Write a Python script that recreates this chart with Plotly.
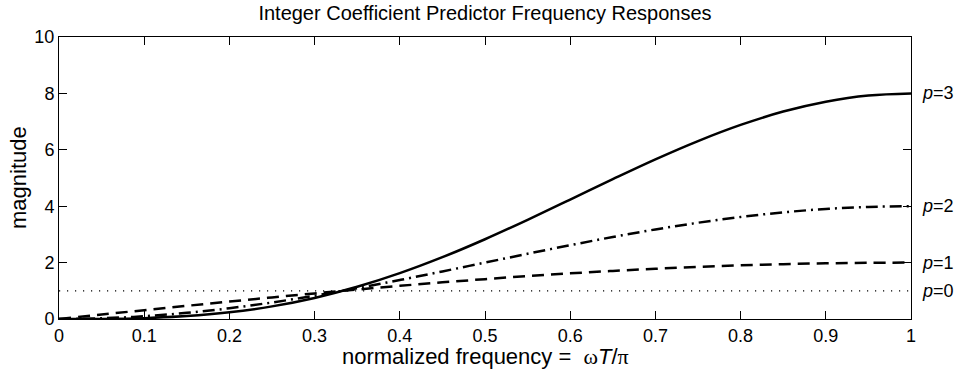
import plotly.graph_objects as go

# normalized frequency samples
freq = [0, 0.05, 0.1, 0.15, 0.2, 0.25, 0.3, 0.35, 0.4, 0.45, 0.5,
        0.55, 0.6, 0.65, 0.7, 0.75, 0.8, 0.85, 0.9, 0.95, 1.0]

# magnitude values
mag_p0 = [1.0] * 21
mag_p1 = [0, 0.157, 0.313, 0.467, 0.618, 0.765, 0.908, 1.045, 1.176, 1.299, 1.414,
          1.521, 1.618, 1.705, 1.782, 1.848, 1.902, 1.945, 1.975, 1.994, 2.0]
mag_p2 = [0, 0.025, 0.098, 0.218, 0.382, 0.586, 0.824, 1.092, 1.382, 1.687, 2.0,
          2.313, 2.618, 2.908, 3.176, 3.414, 3.618, 3.782, 3.902, 3.975, 4.0]
mag_p3 = [0, 0.004, 0.031, 0.102, 0.236, 0.448, 0.748, 1.141, 1.625, 2.191, 2.828,
          3.518, 4.236, 4.958, 5.660, 6.309, 6.882, 7.356, 7.706, 7.926, 8.0]

curve_labels = ["p=0", "p=1", "p=2", "p=3"]
label_levels = [1, 2, 4, 8]

x_ticks = [0, 0.1, 0.2, 0.3, 0.4, 0.5, 0.6, 0.7, 0.8, 0.9, 1]
x_ticktext = ["0", "0.1", "0.2", "0.3", "0.4", "0.5", "0.6", "0.7", "0.8", "0.9", "1"]
y_ticks = [0, 2, 4, 6, 8, 10]

FONT = "Liberation Sans, Arial, sans-serif"
SERIF = "Liberation Serif, Times New Roman, serif"

W, H = 956, 377
ML, MR, MT, MB = 59, 45, 37, 58
PW, PH = W - ML - MR, H - MT - MB

fig = go.Figure()
fig.add_trace(go.Scatter(x=freq, y=mag_p0, mode="lines",
                         line=dict(color="black", width=1.2, dash="1.2px,6.8px")))
fig.add_trace(go.Scatter(x=freq, y=mag_p1, mode="lines",
                         line=dict(color="black", width=2.5, dash="12px,7px", shape="spline")))
fig.add_trace(go.Scatter(x=freq, y=mag_p2, mode="lines",
                         line=dict(color="black", width=2.5, dash="12px,5px,2px,5px", shape="spline")))
fig.add_trace(go.Scatter(x=freq, y=mag_p3, mode="lines",
                         line=dict(color="black", width=2.5, shape="spline")))

for lab, lev in zip(curve_labels, label_levels):
    name, val = lab.split("=")
    fig.add_annotation(x=1, y=lev, xref="x", yref="y", xanchor="left", yanchor="middle",
                       xshift=9, showarrow=False,
                       text="<i>" + name + "</i>=" + val,
                       font=dict(family=FONT, size=18, color="black"))

# axis titles (paper coords are relative to the plot area)
fig.add_annotation(x=0.5, y=-(356 - (H - MB)) / PH, xref="paper", yref="paper",
                   xanchor="center", yanchor="middle", showarrow=False,
                   text="normalized frequency = \u00a0<span style='font-family:" + SERIF + "'>\u03c9</span><i>T</i>/<span style='font-family:" + SERIF + "'>\u03c0</span>",
                   font=dict(family=FONT, size=22, color="black"))
fig.add_annotation(x=(18 - ML) / PW, y=0.5, xref="paper", yref="paper",
                   xanchor="center", yanchor="middle", showarrow=False, textangle=-90,
                   text="magnitude",
                   font=dict(family=FONT, size=22, color="black"))

axis_common = dict(showline=True, linecolor="black", linewidth=1, mirror="ticks",
                   ticks="inside", ticklen=8, tickcolor="black", tickwidth=1,
                   showgrid=False, zeroline=False, automargin=False,
                   tickfont=dict(family=FONT, size=18, color="black"))

fig.update_layout(
    width=W, height=H,
    margin=dict(l=ML, r=MR, t=MT, b=MB, autoexpand=False),
    plot_bgcolor="white", paper_bgcolor="white",
    showlegend=False,
    title=dict(text="Integer Coefficient Predictor Frequency Responses",
               x=(ML + (W - MR)) / 2 / W, xanchor="center",
               y=1 - 13 / H, yanchor="middle",
               font=dict(family=FONT, size=20, color="black")),
    xaxis=dict(range=[0, 1], tickvals=x_ticks, ticktext=x_ticktext, **axis_common),
    yaxis=dict(range=[0, 10], tickvals=y_ticks, **axis_common),
)

fig.write_html("out.html", config={"displayModeBar": False},
               post_script="document.body.style.margin='0';document.body.style.overflow='hidden';")
